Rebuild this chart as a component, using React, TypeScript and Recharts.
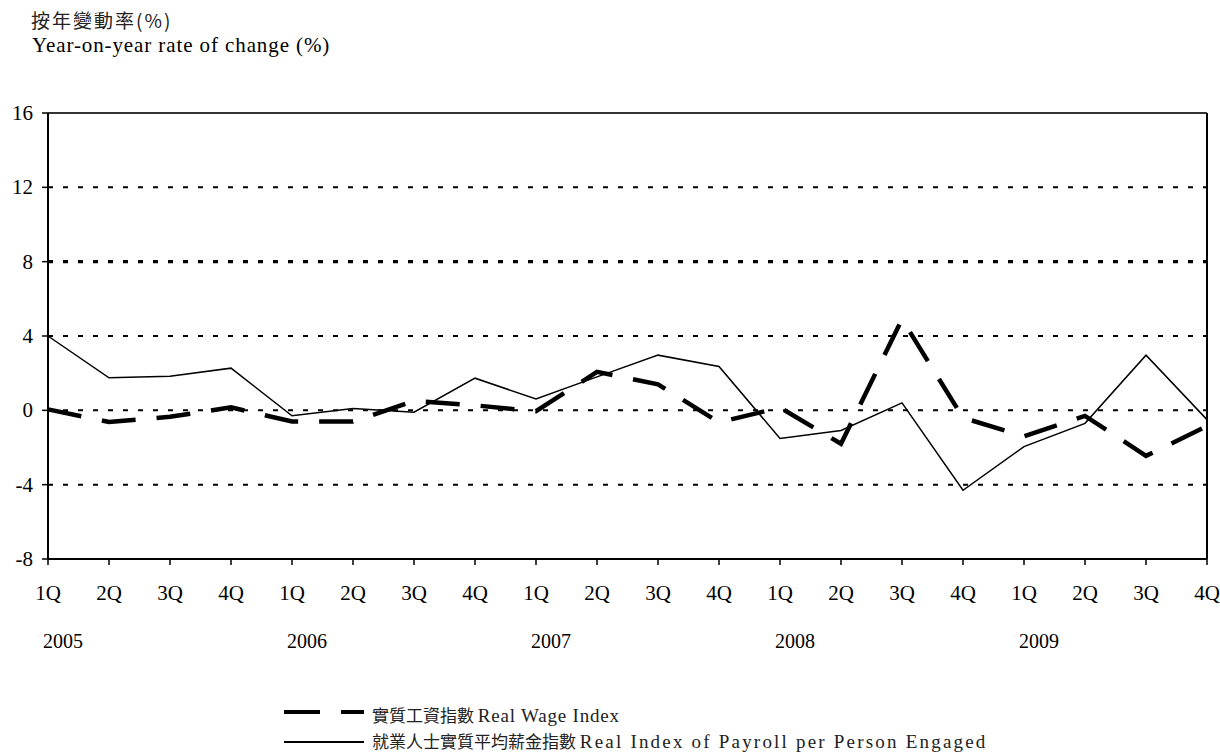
import React from 'react';
import { LineChart, Line, XAxis, YAxis, ReferenceLine } from 'recharts';

const quarters = ['1Q','2Q','3Q','4Q','1Q','2Q','3Q','4Q','1Q','2Q','3Q','4Q','1Q','2Q','3Q','4Q','1Q','2Q','3Q','4Q'];
const years = ['2005','','','','2006','','','','2007','','','','2008','','','','2009','','',''];
const realWageIndex = [0.05,-0.63,-0.35,0.16,-0.6,-0.6,0.5,0.27,-0.05,2.07,1.4,-0.65,0.15,-1.8,4.9,-0.4,-1.4,-0.3,-2.45,-0.85];
const payrollIndex = [4.0,1.75,1.84,2.27,-0.29,0.1,-0.1,1.73,0.61,1.8,2.97,2.36,-1.51,-1.08,0.4,-4.3,-1.95,-0.7,2.97,-0.5];
const yTicks = [-8,-4,0,4,8,12,16];
const gridDotted = [12,4,0,-4];

const data = quarters.map((q, i) => ({ idx: i, q, year: years[i], wage: realWageIndex[i], payroll: payrollIndex[i] }));

const serif = '"Liberation Serif", "Times New Roman", serif';
const cjk = '"Noto Sans CJK TC", "Noto Sans CJK SC", sans-serif';

const XTick = (props: any) => {
  const { x, y, payload } = props;
  const i = payload.value as number;
  return (
    <g>
      <text x={x} y={y + 33} textAnchor="middle" fontFamily={serif} fontSize={21} fill="#000">{quarters[i]}</text>
      {years[i] ? (
        <text x={x + 15} y={y + 81} textAnchor="middle" fontFamily={serif} fontSize={20} fill="#000">{years[i]}</text>
      ) : null}
    </g>
  );
};

const YTick = (props: any) => {
  const { x, y, payload } = props;
  return (
    <text x={x} y={y + 7} textAnchor="end" fontFamily={serif} fontSize={21} fill="#000">{payload.value}</text>
  );
};

export default function App() {
  return (
    <div style={{ position: 'absolute', left: 0, top: 0, width: 1220, height: 755, background: '#fff' }}>
      <div style={{ position: 'absolute', left: 31, top: 9, fontFamily: cjk, fontSize: 19, letterSpacing: 2, color: '#222', lineHeight: '22px', whiteSpace: 'nowrap' }}>按年變動率(%)</div>
      <div style={{ position: 'absolute', left: 32, top: 33, fontFamily: serif, fontSize: 21, letterSpacing: 0.9, color: '#000', lineHeight: '24px', whiteSpace: 'nowrap' }}>Year-on-year rate of change (%)</div>
      <LineChart
        width={1220}
        height={755}
        data={data}
        margin={{ top: 113, right: 13, left: 0, bottom: 136 }}
      >
        <XAxis
          dataKey="idx"
          type="category"
          height={60}
          tick={<XTick />}
          tickSize={6}
          tickMargin={2}
          interval={0}
          axisLine={{ stroke: '#000', strokeWidth: 2 }}
          tickLine={{ stroke: '#000', strokeWidth: 1.5 }}
        />
        <YAxis
          type="number"
          domain={[-8, 16]}
          ticks={yTicks}
          width={48}
          tick={<YTick />}
          tickSize={6}
          tickMargin={9}
          interval={0}
          axisLine={{ stroke: '#000', strokeWidth: 2 }}
          tickLine={{ stroke: '#000', strokeWidth: 1.5 }}
        />
        {gridDotted.map((v) => (
          <ReferenceLine key={v} y={v} stroke="#000" strokeWidth={2} strokeDasharray="5 10" />
        ))}
        <ReferenceLine y={8} stroke="#000" strokeWidth={3.2} strokeDasharray="5 10" />
        <ReferenceLine y={16} stroke="#333" strokeWidth={2} />
        <ReferenceLine x={19} stroke="#000" strokeWidth={2} />
        <Line
          type="linear"
          dataKey="payroll"
          stroke="#000"
          strokeWidth={1.5}
          dot={false}
          isAnimationActive={false}
        />
        <Line
          type="linear"
          dataKey="wage"
          stroke="#000"
          strokeWidth={4.5}
          strokeDasharray="34 21"
          dot={false}
          isAnimationActive={false}
        />
      </LineChart>
      <svg style={{ position: 'absolute', left: 0, top: 695 }} width={1220} height={60}>
        <line x1={284} y1={17} x2={364} y2={17} stroke="#000" strokeWidth={4} strokeDasharray="36 21" />
        <line x1={284} y1={47} x2={364} y2={47} stroke="#000" strokeWidth={1.8} />
      </svg>
      <div style={{ position: 'absolute', left: 372, top: 704, color: '#222', lineHeight: '22px', whiteSpace: 'nowrap' }}>
        <span style={{ fontFamily: cjk, fontSize: 17 }}>實質工資指數 </span><span style={{ fontFamily: serif, fontSize: 19, letterSpacing: 0.8 }}>Real Wage Index</span>
      </div>
      <div style={{ position: 'absolute', left: 372, top: 730, color: '#222', lineHeight: '22px', whiteSpace: 'nowrap' }}>
        <span style={{ fontFamily: cjk, fontSize: 17 }}>就業人士實質平均薪金指數 </span><span style={{ fontFamily: serif, fontSize: 19, letterSpacing: 2.2 }}>Real Index of Payroll per Person Engaged</span>
      </div>
    </div>
  );
}
